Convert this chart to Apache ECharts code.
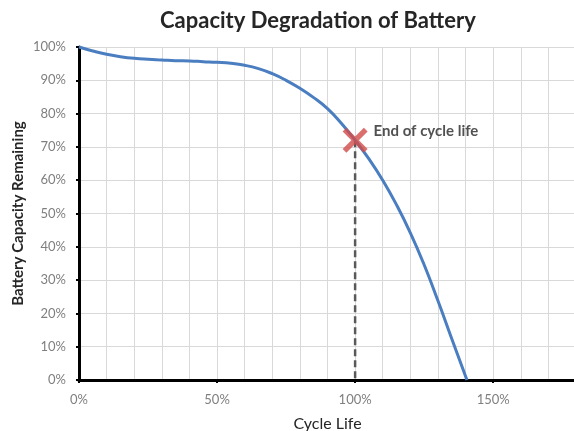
<!DOCTYPE html>
<html>
<head>
<meta charset="utf-8">
<script src="https://cdn.jsdelivr.net/npm/echarts@6/dist/echarts.min.js"></script>
<style>
  html, body { margin: 0; padding: 0; background: #fff; }
  #chart { width: 574px; height: 431px; }
</style>
</head>
<body>
<div id="chart"></div>
<script>
// Cycle life (% of rated) and remaining capacity (%)
const cycleLife = [0, 5, 10, 15, 20, 25, 30, 35, 40, 45, 50, 55, 60, 65, 70, 75, 80, 85, 90, 95, 100, 105, 110, 115, 120, 125, 130, 135, 140.5];
const capacity  = [100, 98.8, 97.8, 97.1, 96.6, 96.3, 96.1, 95.9, 95.8, 95.6, 95.4, 95.1, 94.5, 93.5, 92, 90, 87.6, 84.8, 81.5, 77.1, 72, 66.4, 60, 52.6, 44.2, 34.6, 23.8, 12.4, 0];

// End-of-life point and its drop line to the axis
const endOfLife = [100, 72];
const endLabel = 'End of cycle life';

const xTicks = [0, 50, 100, 150];
const yTicks = [0, 10, 20, 30, 40, 50, 60, 70, 80, 90, 100];

const FONT = 'Lato, "Liberation Sans", sans-serif';

const chart = echarts.init(document.getElementById('chart'));

const crossPath = 'path://M3,0 L10,7 L17,0 L20,3 L13,10 L20,17 L17,20 L10,13 L3,20 L0,17 L7,10 L0,3 Z';

chart.setOption({
  animation: false,
  backgroundColor: '#ffffff',
  title: {
    text: 'Capacity Degradation of Battery',
    left: 155,
    top: 5,
    textStyle: { fontFamily: FONT, fontSize: 22, fontWeight: 'bold', color: '#262626' }
  },
  grid: { left: 79, width: 497, top: 47, height: 333, containLabel: false, outerBoundsMode: 'none' },
  xAxis: [
    {
      type: 'value', min: 0, max: 180, interval: 50,
      name: 'Cycle Life', nameLocation: 'middle', nameGap: 36,
      nameTextStyle: { fontFamily: FONT, fontSize: 16, color: '#262626' },
      axisLine: { show: true, onZero: false, lineStyle: { color: '#000', width: 3 } },
      axisTick: { show: true, length: 3, lineStyle: { color: '#000', width: 2 } },
      axisLabel: {
        fontFamily: FONT, fontSize: 13, color: '#7f7f7f', margin: 13,
        formatter: v => (xTicks.indexOf(v) >= 0 ? v + '%' : '')
      },
      splitLine: { show: false }
    },
    {
      type: 'value', min: 0, max: 180, interval: 10, position: 'bottom',
      axisLine: { show: false }, axisTick: { show: false }, axisLabel: { show: false },
      splitLine: { show: true, lineStyle: { color: '#d9d9d9', width: 1 } }
    }
  ],
  yAxis: {
    type: 'value', min: 0, max: 100, interval: 10,
    name: 'Battery Capacity Remaining', nameLocation: 'middle', nameGap: 53,
    nameMoveOverlap: false,
    nameTextStyle: { fontFamily: FONT, fontSize: 15, fontWeight: 'bold', color: '#262626' },
    axisLine: { show: true, lineStyle: { color: '#000', width: 3 } },
    axisTick: { show: true, length: 3, lineStyle: { color: '#000', width: 2 } },
    axisLabel: {
      fontFamily: FONT, fontSize: 13, color: '#7f7f7f', margin: 13,
      formatter: v => (yTicks.indexOf(v) >= 0 ? v + '%' : '')
    },
    splitLine: { show: true, lineStyle: { color: '#d9d9d9', width: 1 } }
  },
  series: [
    {
      type: 'line', xAxisIndex: 0,
      data: [[endOfLife[0], endOfLife[1]], [endOfLife[0], 0]],
      symbol: 'none', silent: true, z: 2,
      lineStyle: { color: '#595959', width: 2.5, type: [7, 4] }
    },
    {
      type: 'line', xAxisIndex: 0,
      data: cycleLife.map((x, i) => [x, capacity[i]]),
      smooth: true, symbol: 'none', z: 3,
      lineStyle: { color: '#4a7ec0', width: 3 }
    },
    {
      type: 'scatter', xAxisIndex: 0,
      data: [endOfLife],
      symbol: crossPath, symbolSize: 25, z: 4,
      itemStyle: { color: '#d24b48' },
      label: {
        show: true, position: 'right', distance: 6, offset: [0, -9],
        formatter: endLabel,
        fontFamily: FONT, fontSize: 15, fontWeight: 'bold', color: '#262626'
      }
    }
  ]
});
</script>
</body>
</html>
